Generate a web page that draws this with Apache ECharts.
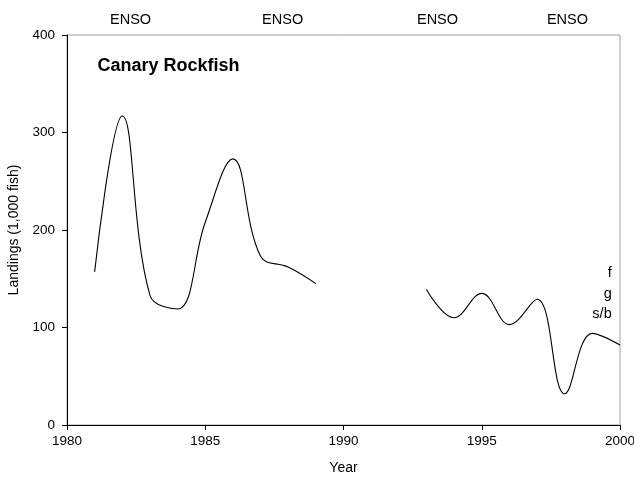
<!DOCTYPE html>
<html>
<head>
<meta charset="utf-8">
<script src="https://cdn.jsdelivr.net/npm/echarts@6/dist/echarts.min.js"></script>
<style>
html,body{margin:0;padding:0;background:#fff;}
#main{width:634px;height:479px;}
</style>
</head>
<body>
<div id="main"></div>
<script>
// ---- data ----
var years = [1981,1982,1983,1984,1985,1986,1987,1988,1989,1990,1991,1992,1993,1994,1995,1996,1997,1998,1999,2000];
var landings = [157,317,133,119,208,273,173,162,145,null,null,null,139,110,135,103,129,32,94,82];
var ensoYears = [1982.3,1987.8,1993.4,1998.1];
var ensoLabel = 'ENSO';
var chartTitle = 'Canary Rockfish';
var sideLabels = ['f','g','s/b'];
var sideLabelValues = [156,134,114];

var font = 'Liberation Sans, Arial, sans-serif';
var chart = echarts.init(document.getElementById('main'), null, {renderer:'canvas'});
var seriesData = years.map(function(y,i){ return [y, landings[i] === null ? '-' : landings[i]]; });

var option = {
  animation:false,
  backgroundColor:'#fff',
  grid:{left:67,right:14,top:35,bottom:54,show:true,borderColor:'#a0a0a0',borderWidth:1,backgroundColor:'transparent',containLabel:false,outerBoundsMode:'none'},
  xAxis:{
    type:'value',min:1980,max:2000,interval:5,
    name:'Year',nameLocation:'middle',nameGap:36,
    nameTextStyle:{fontFamily:font,fontSize:14,color:'#000'},
    axisLine:{show:true,lineStyle:{color:'#000',width:1}},
    axisTick:{show:true,length:5,lineStyle:{color:'#000'}},
    axisLabel:{fontFamily:font,fontSize:13.5,color:'#000',margin:9,formatter:function(v){return String(v);}},
    splitLine:{show:false}
  },
  yAxis:{
    type:'value',min:0,max:400,interval:100,
    name:'Landings (1,000 fish)',nameLocation:'middle',nameGap:42,
    nameTextStyle:{fontFamily:font,fontSize:14,color:'#000'},
    axisLine:{show:true,lineStyle:{color:'#000',width:1}},
    axisTick:{show:true,length:5,lineStyle:{color:'#000'}},
    axisLabel:{fontFamily:font,fontSize:13.5,color:'#000',margin:12},
    splitLine:{show:false}
  },
  series:[{
    type:'line',data:seriesData,smooth:0.4,connectNulls:false,
    showSymbol:false,symbol:'none',
    lineStyle:{color:'#000',width:1.1}
  }]
};
chart.setOption(option);

var graphics = [];
ensoYears.forEach(function(y){
  var p = chart.convertToPixel({gridIndex:0},[y,400]);
  graphics.push({type:'text',x:p[0],y:20,style:{text:ensoLabel,fontFamily:font,fontSize:14.5,fill:'#000',textAlign:'center',textVerticalAlign:'middle'}});
});
var tp = chart.convertToPixel({gridIndex:0},[1981.1,368]);
graphics.push({type:'text',x:tp[0],y:tp[1],style:{text:chartTitle,fontFamily:font,fontSize:18,fontWeight:'bold',fill:'#000',textAlign:'left',textVerticalAlign:'middle'}});
sideLabels.forEach(function(t,i){
  var p = chart.convertToPixel({gridIndex:0},[1999.7,sideLabelValues[i]]);
  graphics.push({type:'text',x:p[0],y:p[1],style:{text:t,fontFamily:font,fontSize:14.5,fill:'#000',textAlign:'right',textVerticalAlign:'middle'}});
});
chart.setOption({graphic:graphics});
</script>
</body>
</html>
